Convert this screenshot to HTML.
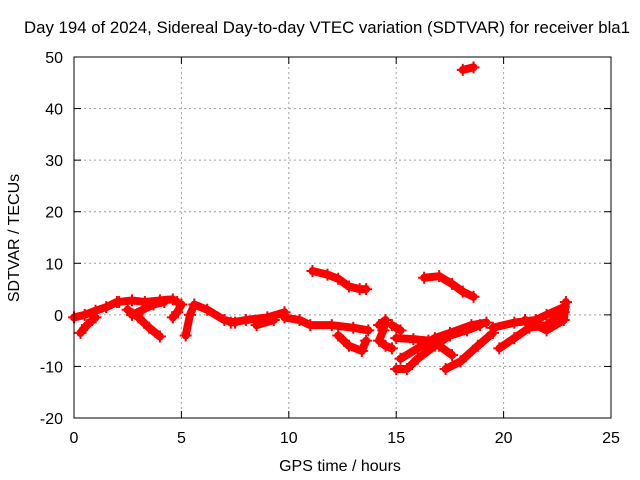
<!DOCTYPE html>
<html><head><meta charset="utf-8"><style>
body{margin:0;background:#fff}
svg{display:block;font-family:"Liberation Sans",sans-serif;font-size:16px}
</style></head><body>
<svg id="chart" width="640" height="480">
<text x="327" y="33" text-anchor="middle" font-size="16.8">Day 194 of 2024, Sidereal Day-to-day VTEC variation (SDTVAR) for receiver bla1</text>
<g id="grid"></g>
<g id="ticks"></g>
<g id="data"></g>
<rect x="74" y="57" width="537" height="361" fill="none" stroke="#000" stroke-width="1"/>
<text x="340" y="471" text-anchor="middle">GPS time / hours</text>
<text transform="translate(19,238) rotate(-90)" text-anchor="middle">SDTVAR / TECUs</text>
</svg>
<script>
const xTicks=[0,5,10,15,20,25];
const yTicks=[-20,-10,0,10,20,30,40,50];
const tracks=[
[[0,-0.5],[0.5,0],[1,0.8],[1.5,1.5],[2,2.5]],
[[0.3,-3.5],[0.6,-2],[1,-0.5]],
[[2.1,2.5],[2.7,2.8],[3.3,2.5],[4,2.8],[4.6,3],[4.8,2.5]],
[[2.5,1],[3,-0.5],[3.5,-2.5],[4,-4.2]],
[[2.7,0],[3.2,1],[3.7,2],[4.2,2.5]],
[[4.6,-0.5],[4.8,0.5],[5,2]],
[[5.2,-4],[5.4,0],[5.6,2],[6.2,1],[7,-1],[7.5,-1.5]],
[[7.3,-1.5],[8,-1],[9,-0.5],[9.8,0.5]],
[[8.5,-2],[9.3,-1]],
[[9.8,-0.5],[10.5,-1],[11,-2],[12,-2],[13,-2.5],[13.7,-3]],
[[12.3,-4],[12.8,-6],[13.4,-7],[13.6,-5]],
[[11.1,8.5],[11.8,7.8],[12.3,7],[12.8,5.5],[13.3,5],[13.6,5]],
[[14.2,-2],[14.5,-1],[14.4,-3],[14.2,-5],[14.5,-6],[14.8,-6.5]],
[[14.8,-2],[15.2,-3]],
[[15,-4.5],[15.8,-4.7],[16.5,-5],[17,-6],[17.6,-7.8]],
[[15,-10.5],[15.5,-10.5],[16,-8.5],[16.8,-6],[17.5,-4],[18.3,-3],[18.9,-2]],
[[15.2,-8.5],[16,-6.5],[16.8,-4.5],[17.5,-3.5],[18.5,-2],[19.2,-1.5]],
[[17.3,-10.5],[18,-9],[18.8,-6],[19.5,-3.5]],
[[16.3,7.2],[17,7.5],[17.6,6],[18.1,4.5],[18.6,3.5]],
[[18.1,47.5],[18.6,48]],
[[19.5,-2.5],[20.5,-1.5],[21.5,-1],[22,0],[22.8,1.5]],
[[19.8,-6.5],[20.5,-4.5],[21.2,-2.5],[22,-2],[22.8,0.5]],
[[21,-1],[22,-3],[22.8,-1],[22.9,2.5]]
];
const X=t=>74+t*537/25, Y=v=>418-(v+20)*361/70;
const NS="http://www.w3.org/2000/svg";
const grid=document.getElementById('grid'),ticks=document.getElementById('ticks'),data=document.getElementById('data');
function mk(tag,attrs,parent){const e=document.createElementNS(NS,tag);for(const k in attrs)e.setAttribute(k,attrs[k]);parent.appendChild(e);return e;}
xTicks.forEach(t=>{
 if(t>0&&t<25){const l=mk('line',{x1:X(t),x2:X(t),y1:57,y2:418,stroke:'#a0a0a0','stroke-dasharray':'2,3'},grid);
 
 }
 mk('line',{x1:X(t),x2:X(t),y1:418,y2:411,stroke:'#000'},ticks);
 mk('line',{x1:X(t),x2:X(t),y1:57,y2:64,stroke:'#000'},ticks);
 const tx=mk('text',{x:X(t),y:443,'text-anchor':'middle'},ticks);tx.textContent=t;
 
 
});
yTicks.forEach(v=>{
 if(v>-20&&v<50){const l=mk('line',{x1:74,x2:611,y1:Y(v),y2:Y(v),stroke:'#a0a0a0','stroke-dasharray':'2,3'},grid);
 
 }
 mk('line',{x1:74,x2:81,y1:Y(v),y2:Y(v),stroke:'#000'},ticks);
 mk('line',{x1:611,x2:604,y1:Y(v),y2:Y(v),stroke:'#000'},ticks);
 const tx=mk('text',{x:63,y:Y(v)+6,'text-anchor':'end'},ticks);tx.textContent=v;
 
 
});
tracks.forEach(tr=>{
 const p=mk('polyline',{points:tr.map(d=>X(d[0])+','+Y(d[1])).join(' '),fill:'none',stroke:'#f00','stroke-width':8,'stroke-linejoin':'round','stroke-linecap':'round'},data);
 
 
 tr.forEach(d=>{
  const m=mk('path',{d:`M${X(d[0])-6},${Y(d[1])}h12M${X(d[0])},${Y(d[1])-6}v12`,stroke:'#f00','stroke-width':2},data);
  
  
 });
});
</script>
</body></html>
